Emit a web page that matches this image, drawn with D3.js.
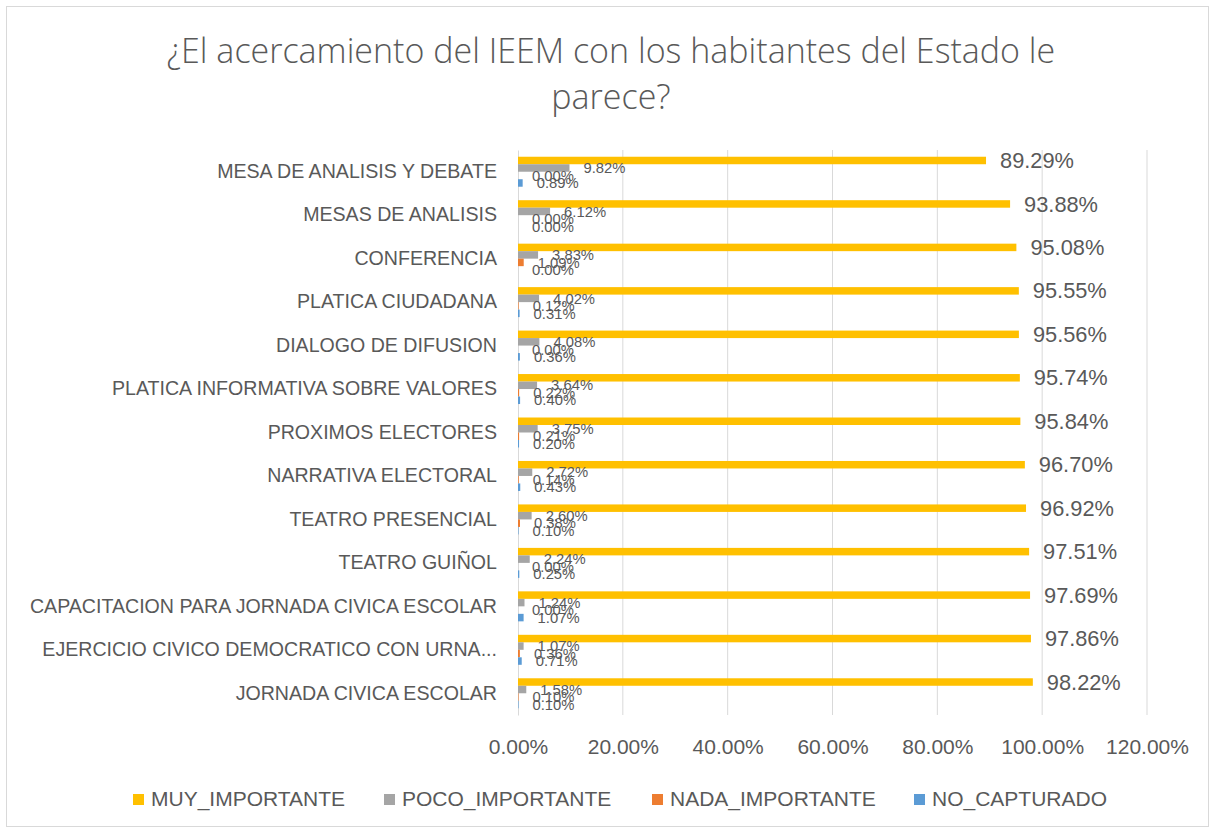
<!DOCTYPE html>
<html>
<head>
<meta charset="utf-8">
<script src="https://cdn.jsdelivr.net/npm/d3@7"></script>
<style>
  body { margin: 0; background: #fff; }
  text { font-family: "Liberation Sans", Arial, sans-serif; fill: #595959; }
  .title { font-family: "Open Sans", "Noto Sans", sans-serif; font-weight: 300; }
</style>
</head>
<body>
<svg id="chart"></svg>
<script>
// Horizontal grouped bars, percentages per activity

var categories = [
  "MESA DE ANALISIS Y DEBATE", "MESAS DE ANALISIS", "CONFERENCIA", "PLATICA CIUDADANA",
  "DIALOGO DE DIFUSION", "PLATICA INFORMATIVA SOBRE VALORES", "PROXIMOS ELECTORES",
  "NARRATIVA ELECTORAL", "TEATRO PRESENCIAL", "TEATRO GUIÑOL",
  "CAPACITACION PARA JORNADA CIVICA ESCOLAR", "EJERCICIO CIVICO DEMOCRATICO CON URNA...",
  "JORNADA CIVICA ESCOLAR"
];
var seriesNames = ["MUY_IMPORTANTE", "POCO_IMPORTANTE", "NADA_IMPORTANTE", "NO_CAPTURADO"];
var muyImportante  = [89.29, 93.88, 95.08, 95.55, 95.56, 95.74, 95.84, 96.70, 96.92, 97.51, 97.69, 97.86, 98.22];
var pocoImportante = [9.82, 6.12, 3.83, 4.02, 4.08, 3.64, 3.75, 2.72, 2.60, 2.24, 1.24, 1.07, 1.58];
var nadaImportante = [0.00, 0.00, 1.09, 0.12, 0.00, 0.22, 0.21, 0.14, 0.38, 0.00, 0.00, 0.36, 0.10];
var noCapturado    = [0.89, 0.00, 0.00, 0.31, 0.36, 0.40, 0.20, 0.43, 0.10, 0.25, 1.07, 0.71, 0.10];
var xTicks = [0, 20, 40, 60, 80, 100, 120];
var colors = ["#FFC000", "#A5A5A5", "#ED7D31", "#5B9BD5"];

var seriesValues = [muyImportante, pocoImportante, nadaImportante, noCapturado];

var width = 1215, height = 833
  , plotLeft = 518, plotRight = 1147
  , plotTop = 150, plotBottom = 715
  ;

var svg = d3.select("#chart")
            .attr("width", width)
            .attr("height", height);

// Chart frame
svg.append("rect")
   .attr("x", 6.5).attr("y", 6.5)
   .attr("width", width - 13).attr("height", height - 13)
   .attr("fill", "#fff")
   .attr("stroke", "#d9d9d9");

// Title
var title = svg.append("text")
               .attr("class", "title")
               .attr("text-anchor", "middle")
               .style("font-size", "34px");
title.append("tspan").attr("x", 611).attr("y", 63)
     .text("¿El acercamiento del IEEM con los habitantes del Estado le");
title.append("tspan").attr("x", 611).attr("y", 109)
     .text("parece?");

var x = d3.scaleLinear().domain([0, 120]).range([plotLeft, plotRight]);
var y = d3.scaleBand().domain(categories).range([plotTop, plotBottom]).paddingInner(0.31).paddingOuter(0.155);
var ySub = d3.scaleBand().domain(d3.range(seriesNames.length)).range([0, y.bandwidth()]);

// Gridlines
svg.append("g").selectAll("line")
   .data(xTicks.slice(1))
   .join("line")
   .attr("x1", function (d) { return x(d); })
   .attr("x2", function (d) { return x(d); })
   .attr("y1", plotTop).attr("y2", plotBottom)
   .attr("stroke", "#d9d9d9");

// X axis tick labels
var xAxis = svg.append("g")
               .attr("transform", "translate(0," + plotBottom + ")")
               .call(d3.axisBottom(x).tickValues(xTicks).tickSize(0).tickFormat(function (d) { return d.toFixed(2) + "%"; }));
xAxis.select(".domain").remove();
xAxis.selectAll("text").attr("y", 39).attr("dy", 0).style("font-size", "21px").attr("fill", "#595959");

// Y axis
var yAxis = svg.append("g")
               .attr("transform", "translate(" + plotLeft + ",0)")
               .call(d3.axisLeft(y).tickSize(0).tickPadding(21));
yAxis.select(".domain").attr("stroke", "#d9d9d9");
yAxis.selectAll("text").style("font-size", "19.6px").attr("fill", "#595959");

// Bars and labels
for (var s = 0; s < seriesValues.length; s += 1) {
  var g = svg.append("g");
  var rows = categories.map(function (c, i) { return { cat: c, v: seriesValues[s][i] }; });
  g.selectAll("rect")
   .data(rows)
   .join("rect")
   .attr("x", x(0))
   .attr("y", function (d) { return y(d.cat) + ySub(s); })
   .attr("width", function (d) { return x(d.v) - x(0); })
   .attr("height", ySub.bandwidth())
   .attr("fill", colors[s]);

  g.selectAll("text")
   .data(rows)
   .join("text")
   .attr("x", function (d) { return x(d.v) + 14; })
   .attr("y", function (d) { return y(d.cat) + ySub(s) + ySub.bandwidth() / 2; })
   .attr("dy", "0.35em")
   .style("font-size", s === 0 ? "21.8px" : "14.8px")
   .text(function (d) { return d.v.toFixed(2) + "%"; });
}

// Legend
var legendX = [133, 384, 652, 914];
var legend = svg.append("g").selectAll("g")
                .data(seriesNames)
                .join("g")
                .attr("transform", function (d, i) { return "translate(" + legendX[i] + ",806)"; });
legend.append("rect")
      .attr("x", 0).attr("y", -12)
      .attr("width", 11).attr("height", 11)
      .attr("fill", function (d, i) { return colors[i]; });
legend.append("text")
      .attr("x", 18)
      .style("font-size", "21px")
      .text(function (d) { return d; });
</script>
</body>
</html>
